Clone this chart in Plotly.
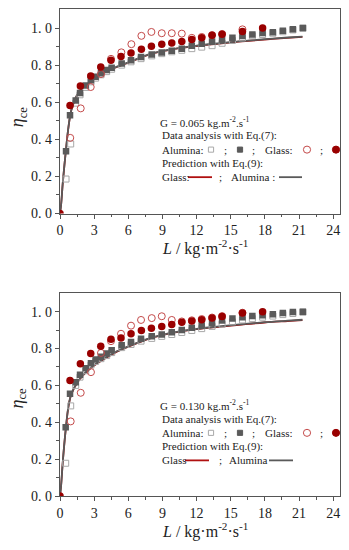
import plotly.graph_objects as go

# ---------------- data ----------------
# Panel 1: G = 0.065
glass_L_top = [0, 0.88, 1.79, 2.7, 3.58, 4.48, 5.36, 6.24, 7.15, 8.03, 8.94, 9.82, 10.7, 11.58, 12.45, 13.36, 14.24, 16.03, 17.8]
glass_filled_top = [0, 0.583, 0.687, 0.742, 0.79, 0.827, 0.846, 0.866, 0.885, 0.902, 0.913, 0.920, 0.927, 0.938, 0.948, 0.961, 0.966, 0.982, 1.0]
glass_open_L_top = [0.9, 1.82, 2.7, 3.6, 4.48, 5.39, 6.27, 7.15, 8.03, 8.94, 9.82, 10.7, 11.58, 12.45, 13.36, 14.24, 16.03]
glass_open_top = [0.408, 0.567, 0.682, 0.752, 0.834, 0.869, 0.913, 0.958, 0.979, 0.972, 0.972, 0.970, 0.947, 0.952, 0.962, 0.968, 0.993]
alu_L_top = [0.53, 0.88, 1.38, 1.76, 2.26, 2.72, 3.13, 3.6, 4.1, 4.54, 5.42, 6.24, 7.12, 8.06, 8.94, 9.82, 10.7, 11.58, 12.45, 13.36, 14.24, 15.15, 16.03, 16.9, 17.8, 18.7, 19.58, 20.46, 21.34]
alu_filled_top = [0.336, 0.53, 0.609, 0.65, 0.69, 0.719, 0.738, 0.756, 0.774, 0.786, 0.809, 0.827, 0.844, 0.857, 0.868, 0.878, 0.888, 0.905, 0.915, 0.928, 0.938, 0.948, 0.957, 0.965, 0.973, 0.977, 0.986, 0.994, 1.0]
alu_open_L_top = [0.53, 0.94, 1.38, 1.76, 2.26, 2.72, 3.13, 3.6, 4.1, 4.54, 5.42, 6.24, 7.12, 8.06, 8.94, 9.82, 10.7, 11.58, 12.45, 13.36, 14.24, 15.15, 16.03, 16.9, 17.8, 18.7, 19.58, 20.46, 21.34]
alu_open_top = [0.186, 0.375, 0.595, 0.64, 0.68, 0.71, 0.73, 0.748, 0.765, 0.778, 0.80, 0.818, 0.835, 0.85, 0.862, 0.872, 0.88, 0.889, 0.897, 0.905, 0.918, 0.933, 0.947, 0.958, 0.965, 0.972, 0.98, 0.99, 0.999]
curve_L = [0, 0.1, 0.25, 0.5, 0.75, 1.0, 1.5, 2, 2.5, 3, 4, 5, 6, 8, 10, 12, 14, 16, 18, 20, 21.3]
pred_alu_top = [0, 0.05, 0.17, 0.33, 0.47, 0.56, 0.64, 0.68, 0.703, 0.728, 0.765, 0.792, 0.815, 0.862, 0.888, 0.905, 0.918, 0.930, 0.940, 0.949, 0.954]
pred_glass_top = [0, 0.05, 0.169, 0.329, 0.468, 0.558, 0.638, 0.678, 0.701, 0.726, 0.763, 0.790, 0.813, 0.860, 0.886, 0.903, 0.916, 0.928, 0.938, 0.947, 0.952]

# Panel 2: G = 0.130
glass_L_bot = [0, 0.88, 1.79, 2.7, 3.58, 4.48, 5.36, 6.24, 7.15, 8.03, 8.94, 9.82, 10.7, 11.58, 12.45, 13.36, 14.24, 16.03, 17.8]
glass_filled_bot = [0, 0.626, 0.718, 0.773, 0.812, 0.85, 0.857, 0.88, 0.898, 0.91, 0.919, 0.93, 0.942, 0.949, 0.956, 0.965, 0.974, 0.992, 1.0]
glass_open_L_bot = [0.94, 1.82, 2.72, 3.6, 4.48, 5.36, 6.24, 7.12, 8.06, 8.94, 9.82, 10.7, 11.58, 12.45, 13.36, 14.24, 16.03]
glass_open_bot = [0.405, 0.56, 0.672, 0.776, 0.84, 0.88, 0.924, 0.955, 0.965, 0.975, 0.955, 0.947, 0.953, 0.96, 0.968, 0.976, 0.994]
alu_L_bot = [0.5, 0.88, 1.38, 1.76, 2.26, 2.72, 3.13, 3.6, 4.1, 4.54, 5.42, 6.24, 7.12, 8.06, 8.94, 9.82, 10.7, 11.58, 12.45, 13.36, 14.24, 15.15, 16.03, 16.9, 17.8, 18.7, 19.58, 20.46, 21.34]
alu_filled_bot = [0.373, 0.555, 0.617, 0.658, 0.693, 0.72, 0.741, 0.755, 0.773, 0.791, 0.818, 0.835, 0.853, 0.866, 0.876, 0.888, 0.90, 0.912, 0.925, 0.94, 0.952, 0.963, 0.97, 0.977, 0.981, 0.986, 0.993, 0.998, 1.0]
alu_open_L_bot = [0.5, 0.94, 1.38, 1.76, 2.26, 2.72, 3.13, 3.6, 4.1, 4.54, 5.42, 6.24, 7.12, 8.06, 8.94, 9.82, 10.7, 11.58, 12.45, 13.36, 14.24, 15.15, 16.03, 16.9, 17.8, 18.7, 19.58, 20.46, 21.34]
alu_open_bot = [0.178, 0.489, 0.60, 0.645, 0.68, 0.71, 0.73, 0.745, 0.762, 0.778, 0.805, 0.822, 0.84, 0.855, 0.866, 0.876, 0.887, 0.898, 0.908, 0.92, 0.932, 0.945, 0.955, 0.962, 0.97, 0.976, 0.984, 0.99, 0.997]
pred_alu_bot = [0, 0.06, 0.19, 0.36, 0.49, 0.555, 0.615, 0.655, 0.685, 0.71, 0.75, 0.785, 0.812, 0.858, 0.888, 0.907, 0.92, 0.932, 0.943, 0.951, 0.956]
pred_glass_bot = [0, 0.06, 0.189, 0.359, 0.488, 0.553, 0.613, 0.653, 0.683, 0.708, 0.748, 0.783, 0.810, 0.856, 0.886, 0.905, 0.918, 0.930, 0.941, 0.949, 0.954]

x_ticks = [0, 3, 6, 9, 12, 15, 18, 21, 24]
y_ticks = [0.0, 0.2, 0.4, 0.6, 0.8, 1.0]
y_ticktext = ["0.\u00a00", "0.\u00a02", "0.\u00a04", "0.\u00a06", "0.\u00a08", "1.\u00a00"]

# ---------------- styles ----------------
RED = "#990000"
RED_OPEN = "#c44a4a"
GREY = "#5a5a5a"
GREY_OPEN = "#a8a8a8"
FRAME = "#555555"
SERIF = "Liberation Serif"
TXT = "#222222"

OFF = 8                 # page body margin
W, H = 349 - OFF, 550 - OFF
ML, MR = 60 - OFF, 9
PW = W - ML - MR


def px(x):
    return (x - 60) / PW


def py(y):
    return 1 - (y - OFF) / H


fig = go.Figure()

panels = [
    dict(xa="x", ya="y", gl=glass_L_top, gf=glass_filled_top, gol=glass_open_L_top, go_=glass_open_top,
         al=alu_L_top, af=alu_filled_top, aol=alu_open_L_top, ao=alu_open_top,
         pa=pred_alu_top, pg=pred_glass_top),
    dict(xa="x2", ya="y2", gl=glass_L_bot, gf=glass_filled_bot, gol=glass_open_L_bot, go_=glass_open_bot,
         al=alu_L_bot, af=alu_filled_bot, aol=alu_open_L_bot, ao=alu_open_bot,
         pa=pred_alu_bot, pg=pred_glass_bot),
]

for p in panels:
    fig.add_trace(go.Scatter(x=curve_L, y=p["pg"], mode="lines", line=dict(color="#a01818", width=1.8, shape="spline"),
                             xaxis=p["xa"], yaxis=p["ya"], showlegend=False))
    fig.add_trace(go.Scatter(x=curve_L, y=p["pa"], mode="lines", line=dict(color=GREY, width=1.8, shape="spline"),
                             xaxis=p["xa"], yaxis=p["ya"], showlegend=False))
    fig.add_trace(go.Scatter(x=p["aol"], y=p["ao"], mode="markers",
                             marker=dict(symbol="square-open", size=6, color=GREY_OPEN, line=dict(width=1)),
                             xaxis=p["xa"], yaxis=p["ya"], showlegend=False))
    fig.add_trace(go.Scatter(x=p["al"], y=p["af"], mode="markers",
                             marker=dict(symbol="square", size=6.5, color=GREY, line=dict(width=0)),
                             xaxis=p["xa"], yaxis=p["ya"], showlegend=False))
    fig.add_trace(go.Scatter(x=p["gol"], y=p["go_"], mode="markers",
                             marker=dict(symbol="circle-open", size=7, color=RED_OPEN, line=dict(width=1)),
                             xaxis=p["xa"], yaxis=p["ya"], showlegend=False))
    fig.add_trace(go.Scatter(x=p["gl"], y=p["gf"], mode="markers",
                             marker=dict(symbol="circle", size=7.5, color=RED, line=dict(width=0)),
                             xaxis=p["xa"], yaxis=p["ya"], showlegend=False))

xcommon = dict(range=[0, 24.6], tickmode="array", tickvals=x_ticks, ticks="outside", ticklen=4,
               tickcolor=FRAME, showline=True, linecolor=FRAME, linewidth=1.2, mirror=True,
               showgrid=False, zeroline=False, tickfont=dict(family=SERIF, size=14, color=TXT),
               minor=dict(tickmode="array", tickvals=[1.5, 4.5, 7.5, 10.5, 13.5, 16.5, 19.5, 22.5],
                          ticks="outside", ticklen=2.5, tickcolor=FRAME))
ycommon = dict(range=[0, 1.1], tickmode="array", tickvals=y_ticks, ticktext=y_ticktext, ticks="outside",
               ticklen=4, tickcolor=FRAME, showline=True, linecolor=FRAME, linewidth=1.2, mirror=True,
               showgrid=False, zeroline=False, tickfont=dict(family=SERIF, size=14, color=TXT),
               minor=dict(tickmode="array", tickvals=[0.1, 0.3, 0.5, 0.7, 0.9],
                          ticks="outside", ticklen=2.5, tickcolor=FRAME))

top_y = (8.5, 216)
bot_y = (297, 503.3)

fig.update_layout(
    width=W, height=H, margin=dict(l=ML, r=MR, t=0, b=0),
    paper_bgcolor="white", plot_bgcolor="white",
    xaxis=dict(domain=[0, 1], anchor="y", **xcommon),
    yaxis=dict(domain=[py(top_y[1]), min(1, py(top_y[0]))], anchor="x", **ycommon),
    xaxis2=dict(domain=[0, 1], anchor="y2", **xcommon),
    yaxis2=dict(domain=[py(bot_y[1]), py(bot_y[0])], anchor="x2", **ycommon),
    showlegend=False,
)

ann = []
shapes = []


def text(x, y, s, size=11, anchor="left"):
    ann.append(dict(x=px(x), y=py(y), xref="paper", yref="paper", text=s, showarrow=False,
                    xanchor=anchor, yanchor="middle", font=dict(family=SERIF, size=size, color=TXT)))


def sq(cx, cy, filled):
    h = 2.6
    shapes.append(dict(type="rect", xref="paper", yref="paper", x0=px(cx - h), x1=px(cx + h),
                       y0=py(cy + h), y1=py(cy - h),
                       fillcolor=GREY if filled else "white",
                       line=dict(color=GREY if filled else GREY_OPEN, width=1)))


def circ(cx, cy, filled):
    r = 3.6
    shapes.append(dict(type="circle", xref="paper", yref="paper", x0=px(cx - r), x1=px(cx + r),
                       y0=py(cy + r), y1=py(cy - r),
                       fillcolor=RED if filled else "white",
                       line=dict(color=RED if filled else RED_OPEN, width=1)))


def seg(x0, x1, y, color):
    shapes.append(dict(type="line", xref="paper", yref="paper", x0=px(x0), x1=px(x1), y0=py(y), y1=py(y),
                       line=dict(color=color, width=1.8)))


legends = [
    dict(g="G = 0.065 kg.m<sup>-2</sup>.s<sup>-1</sup>", y0=123, glass="Glass:", alu="Alumina :",
         rl=(188, 212), semi=220, ax=229, gl=(279, 302)),
    dict(g="G = 0.130 kg.m<sup>-2</sup>.s<sup>-1</sup>", y0=411, glass="Glass", alu="Alumina",
         rl=(185, 209), semi=220, ax=227, gl=(269, 293)),
]

for lg in legends:
    y0 = lg["y0"]
    text(158, y0, lg["g"])
    text(160, y0 + 14, "Data analysis with Eq.(7):")
    ya = y0 + 28
    text(160, ya, "Alumina:")
    sq(211, ya, False)
    text(225, ya, ";", anchor="center")
    sq(240, ya, True)
    text(253, ya, ";", anchor="center")
    text(263, ya, "Glass:")
    circ(307, ya, False)
    text(321, ya, ";", anchor="center")
    circ(336, ya, True)
    text(160, y0 + 42, "Prediction with Eq.(9):")
    yg = y0 + 56
    text(160, yg, lg["glass"])
    seg(lg["rl"][0], lg["rl"][1], yg, "#b01010")
    text(lg["semi"], yg, ";", anchor="center")
    text(lg["ax"], yg, lg["alu"])
    seg(lg["gl"][0], lg["gl"][1], yg, GREY)

# axis titles
for ty in (251, 538):
    text(205, ty, "<i>L</i> / kg·m<sup>-2</sup>·s<sup>-1</sup>", size=16, anchor="center")
for cy in (118, 404):
    ann.append(dict(x=px(18), y=py(cy), xref="paper", yref="paper", text="<i>η</i><sub>ce</sub>",
                    showarrow=False, textangle=-90, xanchor="center", yanchor="middle",
                    font=dict(family=SERIF, size=18, color=TXT)))

fig.update_layout(annotations=ann, shapes=shapes)
fig.write_html("out.html")
